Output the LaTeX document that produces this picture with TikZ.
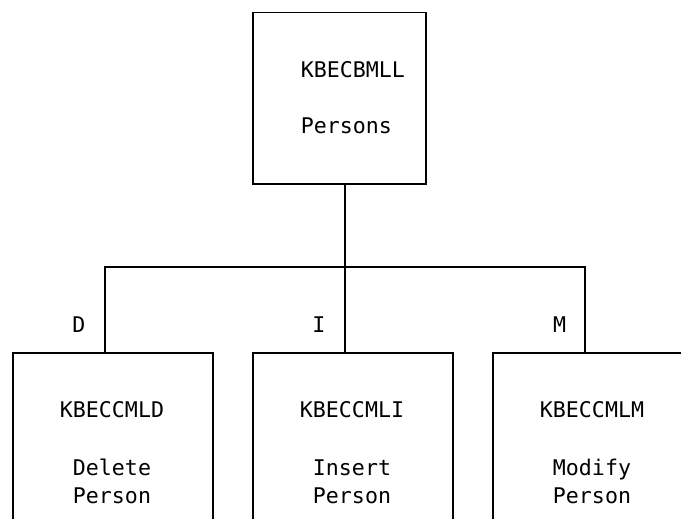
\documentclass[tikz,border=0pt]{standalone}
\usepackage{fontspec}
\setmonofont{DejaVu Sans Mono}
\begin{document}
\begin{tikzpicture}[x=1pt,y=-1pt,line width=1.5pt,
  topbox/.style={draw,rectangle,inner sep=0pt,minimum width=173pt,minimum height=171pt,anchor=north west},
  leafbox/.style={draw,rectangle,inner sep=0pt,minimum width=200pt,minimum height=220pt,anchor=north west},
  txt/.style={font=\ttfamily\fontsize{21.6}{28}\selectfont,inner sep=0pt,anchor=base},
  txtl/.style={txt,anchor=base west}]
\useasboundingbox (0,0) rectangle (681,519);
% boxes
\node[topbox] (top) at (252,12) {};
\node[leafbox] (del) at (12,352) {};
\node[leafbox] (ins) at (252,352) {};
\node[leafbox] (mod) at (492,352) {};
% texts
\node[txtl] (t1) at (300,78) {KBECBMLL};
\node[txtl] (t2) at (300,133) {Persons};
\node[txt] (d1) at (112,417) {KBECCMLD};
\node[txt] (d2) at (112,475) {Delete};
\node[txt] (d3) at (112,503) {Person};
\node[txt] (i1) at (352,417) {KBECCMLI};
\node[txt] (i2) at (352,475) {Insert};
\node[txt] (i3) at (352,503) {Person};
\node[txt] (m1) at (592,417) {KBECCMLM};
\node[txt] (m2) at (592,475) {Modify};
\node[txt] (m3) at (592,503) {Person};
% labels
\node[txt] (lD) at (79,332) {D};
\node[txt] (lI) at (319,332) {I};
\node[txt] (lM) at (559.5,332) {M};
% connectors
\coordinate (j) at (345,267);
\coordinate (bl) at (105,267);
\coordinate (br) at (585,267);
\draw (top.south -| j) -- (j);
\draw (bl |- del.north) -- (bl) -- (br) -- (br |- mod.north);
\draw (j) -- (j |- ins.north);
\end{tikzpicture}
\end{document}
